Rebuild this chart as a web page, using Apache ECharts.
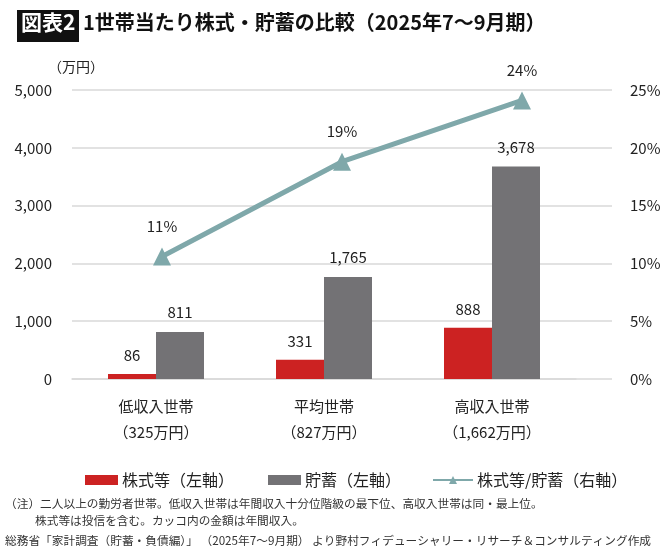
<!DOCTYPE html>
<html>
<head>
<meta charset="utf-8">
<script src="https://cdn.jsdelivr.net/npm/echarts@6/dist/echarts.min.js"></script>
<style>
  body { margin: 0; background: #fff; }
  #chart { width: 670px; height: 550px; }
</style>
</head>
<body>
<div id="chart"></div>
<script>
var categories = ['低収入世帯\n（325万円）', '平均世帯\n（827万円）', '高収入世帯\n（1,662万円）']
var stocks = [86, 331, 888]          // 株式等（万円）
var savings = [811, 1765, 3678]      // 貯蓄（万円）
var ratio = [10.6, 18.8, 24.1]       // 株式等/貯蓄（%）
var ratioLabels = ['11%', '19%', '24%']
var leftTicks = [0, 5000, 1000]
var rightTicks = [0, 25, 5]

var font = 'Noto Sans CJK JP'
var chart = echarts.init(document.getElementById('chart'))

function legendAt(left, name, width, icon) {
    var item = { name: name }
    if (icon) item.icon = icon
    return {
        top: 467, left: left,
        itemWidth: width, itemHeight: 10, itemGap: 0,
        textStyle: { fontSize: 16, color: '#222', fontFamily: font, padding: [0, 0, 0, -1] },
        data: [item]
    }
}

var option = {
    textStyle: { fontFamily: font },
    animation: false,
    graphic: [
        { type: 'rect', shape: { x: 17, y: 10, width: 62, height: 32 }, style: { fill: '#111' } },
        { type: 'text', left: 21, top: 12, style: { text: '図表2', fill: '#fff', font: 'bold 21px "Noto Sans CJK JP"' } },
        { type: 'text', left: 83, top: 12, style: { text: '1世帯当たり株式・貯蓄の比較（2025年7〜9月期）', fill: '#111', font: 'bold 20px "Noto Sans CJK JP"' } },
        { type: 'text', left: 5, top: 498, style: { text: '（注）二人以上の勤労者世帯。低収入世帯は年間収入十分位階級の最下位、高収入世帯は同・最上位。', fill: '#333', font: '11.7px "Noto Sans CJK JP"' } },
        { type: 'text', left: 35, top: 515, style: { text: '株式等は投信を含む。カッコ内の金額は年間収入。', fill: '#333', font: '11.7px "Noto Sans CJK JP"' } },
        { type: 'text', left: 5, top: 535, style: { text: '総務省「家計調査（貯蓄・負債編）」 （2025年7〜9月期） より野村フィデューシャリー・リサーチ＆コンサルティング作成', fill: '#333', font: '11.7px "Noto Sans CJK JP"' } }
    ],
    legend: [
        legendAt(80, '株式等（左軸）', 33, 'rect'),
        legendAt(263, '貯蓄（左軸）', 33, 'rect'),
        legendAt(427, '株式等/貯蓄（右軸）', 40)
    ],
    grid: [
        { left: 72, right: 58, top: 90, bottom: 171 },
        { left: 72, width: 504, top: 90, bottom: 171 }
    ],
    xAxis: [
        {
            gridIndex: 0, type: 'category', data: categories,
            axisLine: { show: false }, axisTick: { show: false }, axisLabel: { show: false }
        },
        {
            gridIndex: 1, type: 'category', data: categories,
            axisLine: { lineStyle: { color: '#d9d9d9', width: 1.5 } },
            axisTick: { show: false },
            axisLabel: { fontSize: 15, color: '#222', lineHeight: 26, margin: 14 }
        }
    ],
    yAxis: [
        {
            gridIndex: 0, type: 'value', min: leftTicks[0], max: leftTicks[1], interval: leftTicks[2],
            name: '（万円）', nameLocation: 'end', nameGap: 16,
            nameTextStyle: { fontSize: 14, color: '#222', align: 'center', padding: [0, 0, 0, 8] },
            axisLine: { show: false }, axisTick: { show: false },
            axisLabel: { fontSize: 15, color: '#222', margin: 20,
                formatter: function (v) { return v.toLocaleString('en-US') } },
            splitLine: { lineStyle: { color: '#d9d9d9', width: 1.5 } }
        },
        {
            gridIndex: 0, type: 'value', position: 'right', min: rightTicks[0], max: rightTicks[1], interval: rightTicks[2],
            axisLine: { show: false }, axisTick: { show: false },
            axisLabel: { fontSize: 15, color: '#222', margin: 18, formatter: '{value}%' },
            splitLine: { show: false }
        },
        {
            gridIndex: 1, type: 'value', min: leftTicks[0], max: leftTicks[1], interval: leftTicks[2],
            show: false, splitLine: { show: false }
        }
    ],
    series: [
        {
            name: '株式等（左軸）', type: 'bar', xAxisIndex: 1, yAxisIndex: 2,
            data: stocks, barWidth: 48, barGap: '0%',
            itemStyle: { color: '#cc2222' },
            label: { show: true, position: 'top', distance: 11, fontSize: 15, color: '#222',
                formatter: function (p) { return p.value.toLocaleString('en-US') } }
        },
        {
            name: '貯蓄（左軸）', type: 'bar', xAxisIndex: 1, yAxisIndex: 2,
            data: savings, barWidth: 48, barGap: '0%',
            itemStyle: { color: '#737275' },
            label: { show: true, position: 'top', distance: 12, fontSize: 15, color: '#222',
                formatter: function (p) { return p.value.toLocaleString('en-US') } }
        },
        {
            name: '株式等/貯蓄（右軸）', type: 'line', xAxisIndex: 0, yAxisIndex: 1,
            data: ratio, symbol: 'triangle', symbolSize: 18,
            lineStyle: { color: '#7fa8aa', width: 5 },
            itemStyle: { color: '#7fa8aa' },
            label: { show: true, position: 'top', distance: 14, fontSize: 15, color: '#222',
                formatter: function (p) { return ratioLabels[p.dataIndex] } }
        }
    ]
}
chart.setOption(option)
</script>
</body>
</html>
